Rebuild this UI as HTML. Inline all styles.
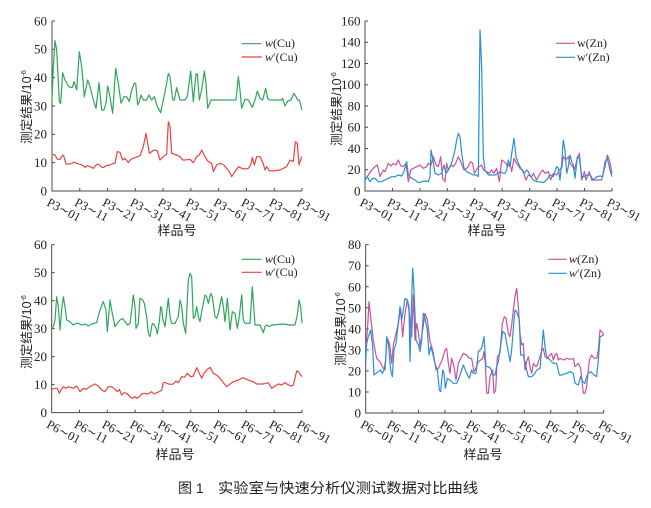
<!DOCTYPE html>
<html><head><meta charset="utf-8"><style>
html,body{margin:0;padding:0;background:#fff;}
svg{display:block;}
.ax{stroke:#4a4a4a;fill:none;stroke-width:1;}
.tk{font-family:"Liberation Serif","DejaVu Serif","Noto Serif CJK SC",serif;font-size:12.5px;fill:#222;}
.yl{font-family:"Liberation Serif","Noto Serif CJK SC",serif;font-size:13px;fill:#222;text-anchor:end;}
.cj{font-family:"Liberation Sans","Noto Sans CJK SC",sans-serif;fill:#222;}
.lg{font-family:"Liberation Serif",serif;font-size:12px;fill:#222;}
.s{fill:none;stroke-width:1.2;stroke-linejoin:round;}
</style></head><body>
<svg width="651" height="508" viewBox="0 0 651 508" xmlns="http://www.w3.org/2000/svg">
<rect width="651" height="508" fill="#fff"/>

<!-- ============ TOP LEFT ============ -->
<g transform="scale(0.333333)">
<path class="ax" vector-effect="non-scaling-stroke" d="M156 63V573H906"/>
<path class="ax" vector-effect="non-scaling-stroke" d="M156 488h9M156 403h9M156 318h9M156 233h9M156 148h9M156 63h9M239.3 573v-9M322.7 573v-9M406 573v-9M489.3 573v-9M572.7 573v-9M656 573v-9M739.3 573v-9M822.7 573v-9M906 573v-9"/>
<polyline class="s" vector-effect="non-scaling-stroke" stroke="#2ea65a" points="156,300 160,200 165,122 170,150 178,305 182,310 188,218 195,240 205,258 212,263 217,262 222,245 230,270 238,155 245,200 253,290 263,240 270,260 280,300 288,325 297,248 305,330 312,330 318,310 323,258 328,280 338,340 347,205 355,250 363,310 372,290 380,290 388,305 395,270 403,250 407,250 413,315 418,305 423,285 430,300 440,300 447,285 455,300 463,290 472,320 482,338 490,300 500,250 505,220 510,230 518,300 523,300 530,263 540,300 555,300 562,290 572,213 580,305 588,222 592,222 598,300 605,270 613,213 618,250 623,325 633,300 708,300 715,230 720,270 725,325 735,298 745,300 757,322 765,300 772,273 780,295 788,300 797,265 803,295 808,300 845,300 848,295 855,318 863,303 873,300 882,280 888,290 893,300 898,300 906,330"/>
<polyline class="s" vector-effect="non-scaling-stroke" stroke="#e84343" points="156,463 165,465 172,478 180,478 188,465 192,470 198,492 210,492 222,487 230,490 240,493 250,497 255,502 262,497 270,500 280,505 290,493 297,493 303,500 310,503 318,497 330,495 340,490 345,490 352,455 360,457 368,480 375,475 385,488 393,478 405,473 420,467 430,440 438,400 443,430 448,460 455,455 462,450 472,452 480,480 490,470 500,462 505,365 510,380 515,460 530,465 540,470 548,480 555,480 570,478 580,488 590,470 598,465 605,450 615,470 625,485 635,490 640,515 650,495 660,490 672,495 680,505 688,515 695,530 705,515 715,500 725,505 735,507 745,505 752,495 757,472 763,495 770,470 780,470 790,492 795,510 800,500 808,512 820,513 840,510 850,505 860,500 870,480 880,485 886,425 892,430 897,495 905,470"/>
<path class="s" vector-effect="non-scaling-stroke" stroke="#2ea65a" d="M725 131H785"/>
<path class="s" vector-effect="non-scaling-stroke" stroke="#e84343" d="M725 171H785"/>
</g>
<text class="lg" x="265" y="47"><tspan font-style="italic">w</tspan>(Cu)</text>
<text class="lg" x="265" y="61"><tspan font-style="italic">w</tspan>′(Cu)</text>
<g class="yl">
<text x="47" y="195.5">0</text><text x="47" y="167">10</text><text x="47" y="138.5">20</text><text x="47" y="110.5">30</text><text x="47" y="82">40</text><text x="47" y="53.5">50</text><text x="47" y="25.5">60</text>
</g>
<g class="tk">
<text transform="translate(46,205) rotate(28)">P3∼01</text>
<text transform="translate(73.8,205) rotate(28)">P3∼11</text>
<text transform="translate(101.6,205) rotate(28)">P3∼21</text>
<text transform="translate(129.3,205) rotate(28)">P3∼31</text>
<text transform="translate(157.1,205) rotate(28)">P3∼41</text>
<text transform="translate(184.9,205) rotate(28)">P3∼51</text>
<text transform="translate(212.7,205) rotate(28)">P3∼61</text>
<text transform="translate(240.4,205) rotate(28)">P3∼71</text>
<text transform="translate(268.2,205) rotate(28)">P3∼81</text>
<text transform="translate(296,205) rotate(28)">P3∼91</text>
</g>
<text class="cj" font-size="13" x="177" y="235" text-anchor="middle">样品号</text>
<text class="cj" font-size="12.5" transform="translate(31,107) rotate(-90)" text-anchor="middle">测定结果/10<tspan dy="-5" font-size="7">-6</tspan></text>

<!-- ============ TOP RIGHT ============ -->
<g transform="translate(320,0) scale(0.333333)">
<path class="ax" vector-effect="non-scaling-stroke" d="M135 63V573H876"/>
<path class="ax" vector-effect="non-scaling-stroke" d="M135 509.25h9M135 445.5h9M135 381.75h9M135 318h9M135 254.25h9M135 190.5h9M135 126.75h9M135 63h9M217.3 573v-9M299.7 573v-9M382 573v-9M464.3 573v-9M546.7 573v-9M629 573v-9M711.3 573v-9M793.7 573v-9M876 573v-9"/>
<polyline class="s" vector-effect="non-scaling-stroke" stroke="#c9529c" points="135,540 145,525 155,510 165,500 172,495 180,530 190,510 195,515 205,490 213,498 220,490 228,495 235,480 242,497 250,500 258,490 265,545 272,510 280,505 290,500 300,495 310,505 320,500 325,490 333,495 340,470 348,495 355,500 362,470 368,535 375,545 380,490 385,510 393,495 400,500 407,490 415,470 422,485 432,510 440,505 447,495 452,485 458,490 463,520 472,505 478,500 485,495 490,510 500,515 508,520 515,510 522,520 530,505 538,545 545,480 552,485 558,490 562,500 570,490 575,515 582,475 590,490 600,505 608,510 618,540 625,525 635,530 640,520 650,540 660,520 668,510 675,520 685,515 692,540 700,520 710,525 718,510 725,505 730,470 738,480 745,470 750,490 758,500 763,510 772,475 778,460 785,540 793,515 798,540 808,515 815,540 830,540 845,540 855,500 862,465 868,480 876,520"/>
<polyline class="s" vector-effect="non-scaling-stroke" stroke="#2a8fd6" points="135,540 142,530 150,545 158,535 165,535 175,545 185,545 195,540 205,535 215,530 225,530 235,525 245,528 252,515 260,485 265,525 275,535 285,540 295,548 305,545 315,543 325,545 330,530 333,450 338,475 345,520 355,525 365,520 372,495 378,520 385,510 395,490 405,450 410,420 415,400 420,410 425,460 432,505 440,515 450,520 460,525 470,525 475,530 480,90 485,200 490,470 495,510 505,525 515,525 525,525 535,520 540,515 550,520 555,520 560,510 565,480 570,500 578,440 582,415 588,470 595,490 605,510 612,520 620,510 625,515 632,530 640,540 650,545 660,545 670,548 680,540 690,525 700,530 710,500 715,505 720,540 725,490 730,420 735,450 740,520 745,500 750,465 755,485 760,495 765,535 772,470 778,475 785,530 792,530 800,525 810,525 820,540 830,530 840,528 848,530 855,485 862,475 870,510 876,530"/>
<path class="s" vector-effect="non-scaling-stroke" stroke="#c9529c" d="M708 130H765"/>
<path class="s" vector-effect="non-scaling-stroke" stroke="#2a8fd6" d="M708 172H765"/>
</g>
<text class="lg" x="577" y="47">w(Zn)</text>
<text class="lg" x="577" y="61">w′(Zn)</text>
<g class="yl">
<text x="360.5" y="195.5">0</text><text x="360.5" y="174.2">20</text><text x="360.5" y="153">40</text><text x="360.5" y="131.7">60</text><text x="360.5" y="110.5">80</text><text x="360.5" y="89.2">100</text><text x="360.5" y="68">120</text><text x="360.5" y="46.7">140</text><text x="360.5" y="25.5">160</text>
</g>
<g class="tk">
<text transform="translate(359,205) rotate(28)">P3∼01</text>
<text transform="translate(386.4,205) rotate(28)">P3∼11</text>
<text transform="translate(413.9,205) rotate(28)">P3∼21</text>
<text transform="translate(441.3,205) rotate(28)">P3∼31</text>
<text transform="translate(468.8,205) rotate(28)">P3∼41</text>
<text transform="translate(496.2,205) rotate(28)">P3∼51</text>
<text transform="translate(523.7,205) rotate(28)">P3∼61</text>
<text transform="translate(551.1,205) rotate(28)">P3∼71</text>
<text transform="translate(578.6,205) rotate(28)">P3∼81</text>
<text transform="translate(606,205) rotate(28)">P3∼91</text>
</g>
<text class="cj" font-size="13" x="487" y="235" text-anchor="middle">样品号</text>
<text class="cj" font-size="12.5" transform="translate(341,109) rotate(-90)" text-anchor="middle">测定结果/10<tspan dy="-5" font-size="7">-6</tspan></text>

<!-- ============ BOTTOM LEFT ============ -->
<g transform="translate(0,230) scale(0.333333)">
<path class="ax" vector-effect="non-scaling-stroke" d="M155 44V548H906"/>
<path class="ax" vector-effect="non-scaling-stroke" d="M155 464h9M155 380h9M155 296h9M155 212h9M155 128h9M155 44h9M238.4 548v-9M321.9 548v-9M405.3 548v-9M488.8 548v-9M572.2 548v-9M655.7 548v-9M739.1 548v-9M822.6 548v-9M906 548v-9"/>
<polyline class="s" vector-effect="non-scaling-stroke" stroke="#2ea65a" points="155,295 160,290 165,270 170,200 175,230 180,300 185,240 190,200 195,230 200,270 210,275 220,285 228,280 235,280 245,285 255,282 265,288 275,282 290,278 300,240 310,215 318,240 322,305 330,210 335,240 345,290 352,280 360,270 368,265 375,275 383,285 390,280 395,240 400,195 405,230 408,295 415,280 420,205 428,210 433,220 440,260 445,310 450,320 457,280 462,283 468,295 472,312 478,275 482,230 485,235 488,265 495,290 505,205 510,260 515,280 525,280 535,260 540,210 545,230 550,280 557,310 565,150 570,130 575,140 580,265 585,260 590,230 595,260 600,275 605,245 615,195 620,200 625,220 632,190 637,200 645,260 650,265 655,250 665,200 670,230 675,275 682,205 690,300 697,245 705,250 712,295 718,260 725,195 730,270 735,280 750,280 757,170 765,285 772,285 780,285 790,308 795,290 800,285 808,290 815,285 850,282 870,285 885,285 892,255 897,210 902,230 906,280"/>
<polyline class="s" vector-effect="non-scaling-stroke" stroke="#e84343" points="155,478 165,475 172,475 178,490 183,480 190,470 198,475 205,470 210,472 220,475 230,468 240,485 250,475 258,478 270,470 285,462 295,468 305,480 315,485 325,470 335,470 345,478 352,485 358,478 365,495 372,488 380,490 390,500 398,505 405,500 410,505 418,500 425,492 433,490 440,492 448,490 455,485 462,492 470,488 478,485 485,480 490,458 497,458 505,462 512,463 520,462 528,453 535,458 545,440 553,442 562,430 572,440 580,438 590,413 598,430 605,445 612,430 620,420 630,412 640,430 650,435 660,445 670,458 680,470 690,462 700,455 715,450 730,443 740,448 750,452 760,455 770,462 790,462 805,458 815,475 825,468 835,462 845,465 855,458 865,465 875,468 880,465 890,423 895,425 906,440"/>
<path class="s" vector-effect="non-scaling-stroke" stroke="#2ea65a" d="M725 88H785"/>
<path class="s" vector-effect="non-scaling-stroke" stroke="#e84343" d="M725 127H785"/>
</g>
<text class="lg" x="265" y="263"><tspan font-style="italic">w</tspan>(Cu)</text>
<text class="lg" x="265" y="276"><tspan font-style="italic">w</tspan>′(Cu)</text>
<g class="yl">
<text x="47" y="417">0</text><text x="47" y="389">10</text><text x="47" y="361">20</text><text x="47" y="333">30</text><text x="47" y="305">40</text><text x="47" y="277">50</text><text x="47" y="249">60</text>
</g>
<g class="tk">
<text transform="translate(45.7,427) rotate(28)">P6∼01</text>
<text transform="translate(73.5,427) rotate(28)">P6∼11</text>
<text transform="translate(101.3,427) rotate(28)">P6∼21</text>
<text transform="translate(129.1,427) rotate(28)">P6∼31</text>
<text transform="translate(156.9,427) rotate(28)">P6∼41</text>
<text transform="translate(184.7,427) rotate(28)">P6∼51</text>
<text transform="translate(212.6,427) rotate(28)">P6∼61</text>
<text transform="translate(240.4,427) rotate(28)">P6∼71</text>
<text transform="translate(268.2,427) rotate(28)">P6∼81</text>
<text transform="translate(296,427) rotate(28)">P6∼91</text>
</g>
<text class="cj" font-size="13" x="175" y="459" text-anchor="middle">样品号</text>
<text class="cj" font-size="12.5" transform="translate(31,332) rotate(-90)" text-anchor="middle">测定结果/10<tspan dy="-5" font-size="7">-6</tspan></text>

<!-- ============ BOTTOM RIGHT ============ -->
<g transform="translate(320,230) scale(0.333333)">
<path class="ax" vector-effect="non-scaling-stroke" d="M137 44V549H851"/>
<path class="ax" vector-effect="non-scaling-stroke" d="M137 485.9h9M137 422.75h9M137 359.6h9M137 296.5h9M137 233.4h9M137 170.25h9M137 107.1h9M137 44h9M216.3 549v-9M295.7 549v-9M375 549v-9M454.3 549v-9M533.7 549v-9M613 549v-9M692.3 549v-9M771.7 549v-9M851 549v-9"/>
<polyline class="s" vector-effect="non-scaling-stroke" stroke="#c9529c" points="137,360 143,290 147,215 152,260 160,330 165,360 170,385 180,395 190,415 195,420 200,340 205,330 210,350 215,400 220,345 228,310 235,280 242,235 248,320 255,250 262,210 268,250 275,320 280,195 285,330 290,280 295,305 300,350 308,300 315,250 322,270 330,335 335,350 340,370 348,420 355,415 362,400 368,385 375,360 380,355 385,400 390,430 395,385 402,410 408,450 415,400 422,385 430,370 440,375 448,385 455,385 462,425 470,410 475,395 482,390 488,385 492,365 496,400 500,490 505,490 510,440 518,420 522,490 527,480 532,380 540,370 547,280 553,260 558,265 565,310 570,320 575,285 580,240 585,200 590,175 595,230 600,310 605,345 610,340 615,420 620,395 625,380 630,410 635,430 640,400 648,410 652,405 660,380 665,365 670,355 675,380 682,385 690,375 695,370 700,390 705,375 710,370 715,390 720,385 730,390 740,385 750,388 760,385 765,410 770,405 775,400 782,415 790,490 795,490 800,470 808,390 815,375 822,385 830,385 835,360 840,300 845,305 851,315"/>
<polyline class="s" vector-effect="non-scaling-stroke" stroke="#2a8fd6" points="137,395 140,340 145,320 152,300 158,350 162,435 168,430 175,425 182,420 187,430 192,420 197,390 200,320 205,340 212,420 217,440 222,360 228,340 235,280 240,230 245,270 250,240 255,205 262,210 267,230 270,395 275,210 278,115 282,180 288,330 295,345 300,365 305,330 310,250 315,265 322,300 327,375 332,350 338,370 345,400 352,420 358,480 362,485 368,420 372,430 376,475 382,445 390,450 395,455 400,460 410,460 415,450 425,420 430,405 440,430 448,445 455,420 460,430 468,430 475,365 485,355 492,320 498,410 505,410 512,415 518,435 525,435 530,410 535,395 540,360 548,305 555,310 560,340 565,365 570,395 575,360 582,270 585,240 590,245 598,270 602,375 610,375 615,395 620,420 625,440 635,440 645,430 650,420 660,415 665,360 670,300 675,350 680,380 690,390 700,400 710,400 718,435 725,435 740,430 750,425 760,430 765,460 775,465 782,440 788,455 795,460 800,440 805,430 812,425 822,435 830,440 835,390 840,320 845,318 851,315"/>
<path class="s" vector-effect="non-scaling-stroke" stroke="#c9529c" d="M685 88H740"/>
<path class="s" vector-effect="non-scaling-stroke" stroke="#2a8fd6" d="M685 130H740"/>
</g>
<text class="lg" x="569" y="263"><tspan font-style="italic">w</tspan>(Zn)</text>
<text class="lg" x="569" y="277"><tspan font-style="italic">w</tspan>′(Zn)</text>
<g class="yl">
<text x="361" y="417.5">0</text><text x="361" y="396.5">10</text><text x="361" y="375.4">20</text><text x="361" y="354.4">30</text><text x="361" y="333.3">40</text><text x="361" y="312.3">50</text><text x="361" y="291.3">60</text><text x="361" y="270.2">70</text><text x="361" y="249.2">80</text>
</g>
<g class="tk">
<text transform="translate(359.7,427) rotate(28)">P6∼01</text>
<text transform="translate(386.1,427) rotate(28)">P6∼11</text>
<text transform="translate(412.6,427) rotate(28)">P6∼21</text>
<text transform="translate(439,427) rotate(28)">P6∼31</text>
<text transform="translate(465.4,427) rotate(28)">P6∼41</text>
<text transform="translate(491.9,427) rotate(28)">P6∼51</text>
<text transform="translate(518.3,427) rotate(28)">P6∼61</text>
<text transform="translate(544.8,427) rotate(28)">P6∼71</text>
<text transform="translate(571.2,427) rotate(28)">P6∼81</text>
<text transform="translate(597.7,427) rotate(28)">P6∼91</text>
</g>
<text class="cj" font-size="13" x="483" y="459" text-anchor="middle">样品号</text>
<text class="cj" font-size="12.5" transform="translate(345,329) rotate(-90)" text-anchor="middle">测定结果/10<tspan dy="-5" font-size="7">-6</tspan></text>

<!-- caption -->
<text class="cj" font-size="14" x="178" y="493">图 1</text>
<text class="cj" font-size="14.4" x="218" y="493" textLength="260" lengthAdjust="spacingAndGlyphs">实验室与快速分析仪测试数据对比曲线</text>
</svg>
</body></html>
